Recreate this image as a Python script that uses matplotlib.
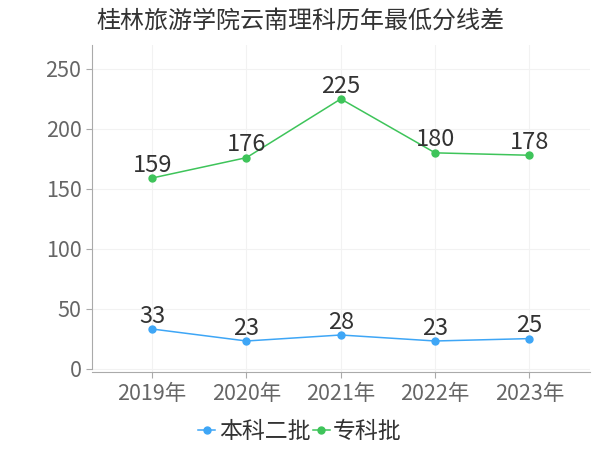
import matplotlib
matplotlib.use("Agg")
import matplotlib.pyplot as plt

plt.rcParams['font.family'] = ['Noto Sans CJK SC', 'DejaVu Sans']

years = ["2019年", "2020年", "2021年", "2022年", "2023年"]
benke2 = [33, 23, 28, 23, 25]
zhuanke = [159, 176, 225, 180, 178]
series_names = ["本科二批", "专科批"]
title = "桂林旅游学院云南理科历年最低分线差"

blue = "#3ea6f6"
green = "#3ec45a"

fig = plt.figure(figsize=(6, 4.5), dpi=100)
ax = fig.add_axes([0.153, 0.173, 0.83, 0.727])

x = range(len(years))
ax.plot(x, benke2, color=blue, marker="o", markersize=5, linewidth=1.1, label=series_names[0])
ax.plot(x, zhuanke, color=green, marker="o", markersize=5, linewidth=1.1, label=series_names[1])

for xs, vals in [(x, benke2), (x, zhuanke)]:
    for xi, v in zip(xs, vals):
        ax.annotate(str(v), (xi, v), xytext=(0, 1), textcoords="offset points",
                    ha="center", va="bottom", fontsize=17, color="#333333")

ax.set_xlim(-0.64, 4.64)
ax.set_ylim(-3, 270)
ax.set_xticks(list(x))
ax.set_xticklabels(years)
ax.set_yticks([0, 50, 100, 150, 200, 250])
ax.tick_params(axis="both", labelsize=15.5, colors="#666666", length=4, color="#aaaaaa")
ax.tick_params(axis="x", pad=4)
ax.grid(True, color="#f2f2f2", linewidth=0.8)
ax.set_axisbelow(True)

for s in ["top", "right"]:
    ax.spines[s].set_visible(False)
ax.spines["left"].set_color("#aaaaaa")
ax.spines["bottom"].set_color("#aaaaaa")
ax.spines["left"].set_bounds(0, 270)

fig.text(0.5, 0.955, title, ha="center", va="center", fontsize=17.3, color="#333333")

fig.legend(loc="center", bbox_to_anchor=(0.5, 0.04), ncol=2, frameon=False,
           fontsize=16.5, handlelength=0.75, handletextpad=0.15, columnspacing=0.1,
           labelcolor="#333333")

fig.savefig("out.png", dpi=100)
